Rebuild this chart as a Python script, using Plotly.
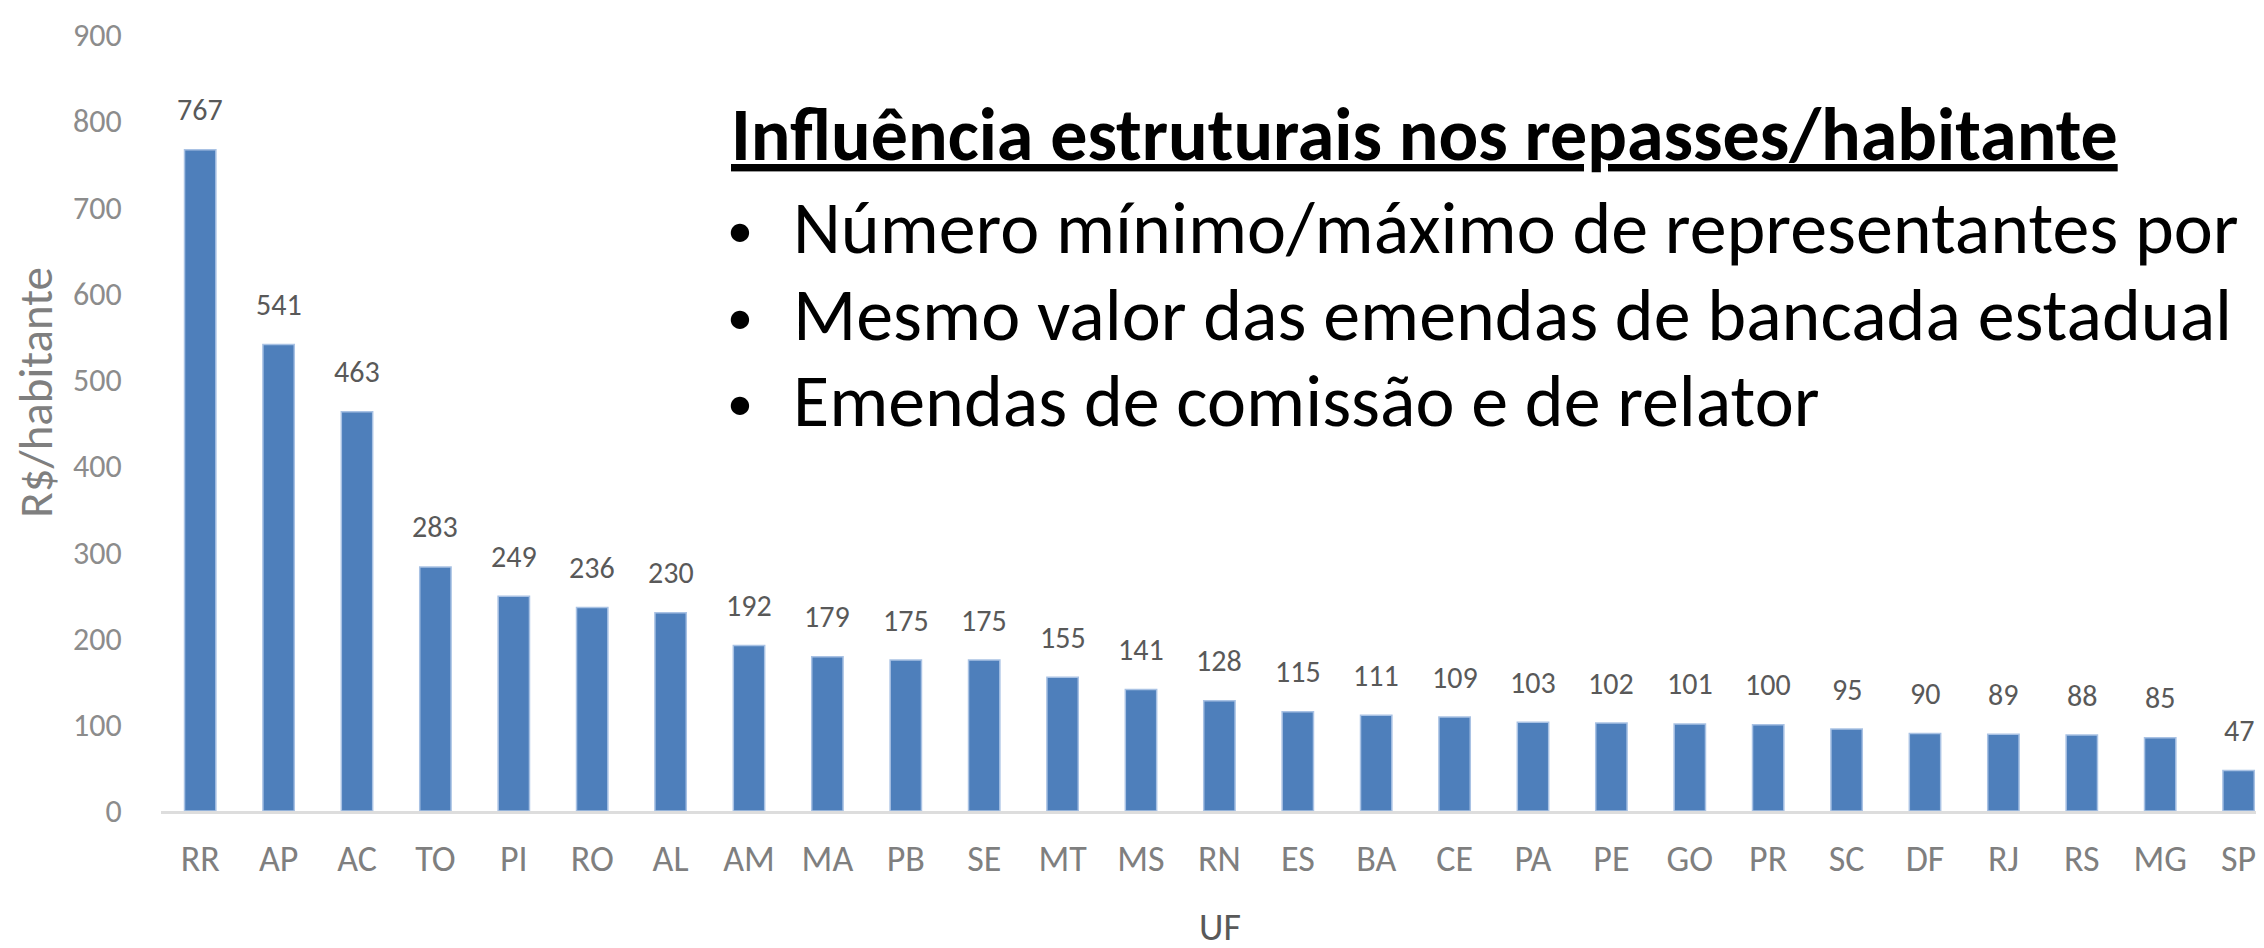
import plotly.graph_objects as go

ufs = ["RR", "AP", "AC", "TO", "PI", "RO", "AL", "AM", "MA", "PB", "SE", "MT", "MS", "RN",
       "ES", "BA", "CE", "PA", "PE", "GO", "PR", "SC", "DF", "RJ", "RS", "MG", "SP"]
valores = [767, 541, 463, 283, 249, 236, 230, 192, 179, 175, 175, 155, 141, 128,
           115, 111, 109, 103, 102, 101, 100, 95, 90, 89, 88, 85, 47]
y_ticks = [0, 100, 200, 300, 400, 500, 600, 700, 800, 900]

titulo = "Influência estruturais nos repasses/habitante"
itens = ["Número mínimo/máximo de representantes por",
         "Mesmo valor das emendas de bancada estadual",
         "Emendas de comissão e de relator"]
titulo_x = "UF"
titulo_y = "R$/habitante"

# page body has an 8px margin: the figure is drawn 8px in from the window edge
OFF = 8
W, H = 2264, 948
SCREEN_R = 2264
L, T = 161 - OFF, 26 - OFF
B = H - (811 - OFF)
R = W - (SCREEN_R - OFF)
FONT = "Carlito, Lato, 'Open Sans', sans-serif"


def px(xs):
    return (xs - OFF - L) / (W - L - R)


def py(ys):
    return (H - B - (ys - OFF)) / (H - T - B)


fig = go.Figure()
fig.add_trace(go.Bar(
    x=ufs, y=valores, width=0.4,
    marker=dict(color="#4E7FBB", line=dict(color="#A9C2E4", width=1.5)),
    hoverinfo="x+y",
))

annotations = []
for u, v in zip(ufs, valores):
    annotations.append(dict(x=u, y=v, xref="x", yref="y", text=str(v), showarrow=False,
                            yshift=40, font=dict(family=FONT, size=30, color="#595959")))

TS, BS, DS = 74, 74, 52
annotations.append(dict(x=px(729), y=py(155 + 0.27 * TS), xref="paper", yref="paper",
                        xanchor="left", yanchor="bottom",
                        text="<b><u>" + titulo + "</u></b>", showarrow=False,
                        font=dict(family=FONT, size=TS, color="#000000")))
baselines = [249, 337, 424]
for txt, bl in zip(itens, baselines):
    annotations.append(dict(x=px(740), y=py(bl - 6 + 0.27 * DS), xref="paper", yref="paper",
                            xanchor="center", yanchor="bottom", text="•", showarrow=False,
                            font=dict(family=FONT, size=DS, color="#000000")))
    annotations.append(dict(x=px(791), y=py(bl + 0.27 * BS), xref="paper", yref="paper",
                            xanchor="left", yanchor="bottom", text=txt, showarrow=False,
                            font=dict(family=FONT, size=BS, color="#000000")))

annotations.append(dict(x=px(1220), y=py(928), xref="paper", yref="paper",
                        xanchor="center", yanchor="middle", text=titulo_x, showarrow=False,
                        font=dict(family=FONT, size=38, color="#595959")))
annotations.append(dict(x=px(36), y=py(388), xref="paper", yref="paper", textangle=-90,
                        xanchor="center", yanchor="middle", text=titulo_y, showarrow=False,
                        font=dict(family=FONT, size=47, color="#7F7F7F")))

fig.update_layout(
    width=W, height=H, autosize=False,
    margin=dict(l=L, r=R, t=T, b=B, pad=0),
    paper_bgcolor="white", plot_bgcolor="white",
    showlegend=False,
    annotations=annotations,
    font=dict(family=FONT),
    xaxis=dict(
        range=[-0.5, (W - L - R) / 78.4 - 0.5], showgrid=False, zeroline=False,
        showline=True, linecolor="#DDDDDD", linewidth=3,
        ticks="outside", ticklen=14, tickcolor="rgba(0,0,0,0)",
        tickfont=dict(family=FONT, size=36, color="#7F7F7F"),
        ticklabeloverflow="allow",
    ),
    yaxis=dict(
        range=[0, 900], tickvals=y_ticks, showgrid=False, zeroline=False, showline=False,
        ticks="outside", ticklen=32, tickcolor="rgba(0,0,0,0)",
        tickfont=dict(family=FONT, size=32, color="#8C8C8C"),
        ticklabeloverflow="allow",
    ),
)

fig.write_html("out.html")
